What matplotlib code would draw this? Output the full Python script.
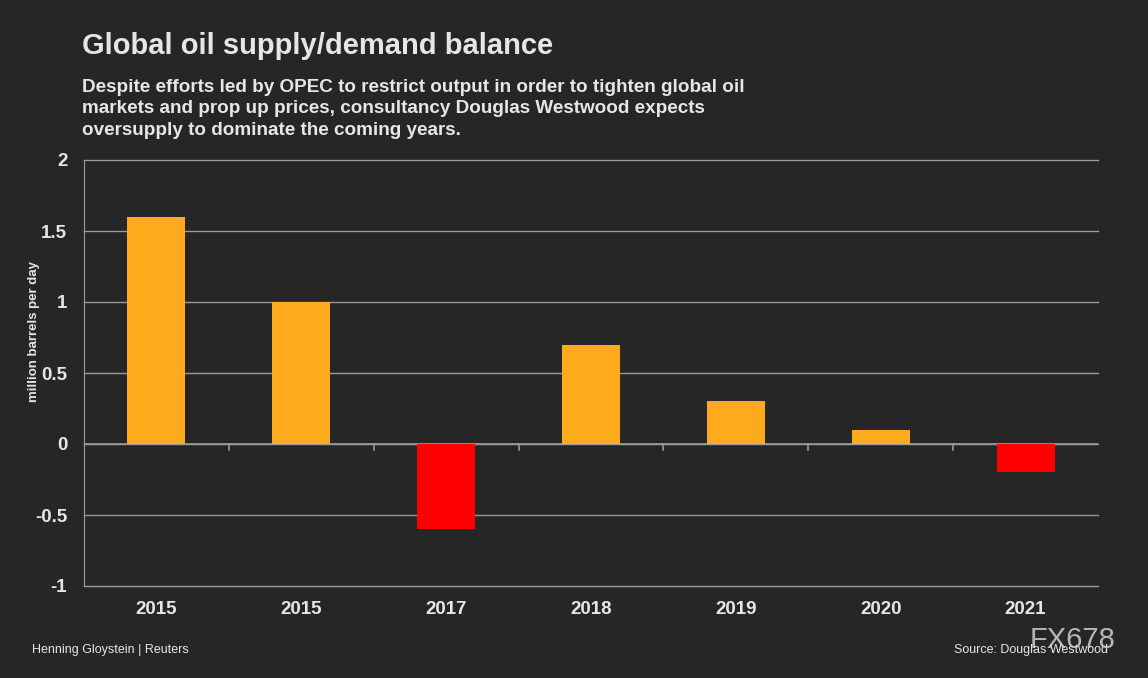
import matplotlib.pyplot as plt
import numpy as np

years = ['2015', '2015', '2017', '2018', '2019', '2020', '2021']
balance = [1.6, 1.0, -0.6, 0.7, 0.3, 0.1, -0.2]

bg = '#262626'
txt = '#E6E6E6'
grid = '#9a9a9a'
plt.rcParams['font.family'] = ['Liberation Sans', 'DejaVu Sans']

fig = plt.figure(figsize=(11.48, 6.78), dpi=100, facecolor=bg)
ax = fig.add_axes([84/1148, 1-586/678, 1014/1148, 426/678], facecolor=bg)

x = np.arange(len(years))
colors = ['#FDAA1C' if v >= 0 else '#FF0000' for v in balance]
ax.bar(x, balance, width=0.4, color=colors, zorder=3)

ax.set_xlim(-0.5, len(years) - 0.5)
ax.set_ylim(-1, 2)
ax.set_yticks(np.arange(-1, 2.01, 0.5))
ax.set_yticklabels(['-1', '-0.5', '0', '0.5', '1', '1.5', '2'])
for yv in np.arange(-1, 2.01, 0.5):
    ax.axhline(yv, color=grid, lw=1, zorder=0, clip_on=False)
ax.axhline(0, color=grid, lw=1.2, zorder=2)

# tick marks at category boundaries on zero line
for b in np.arange(0.5, len(years) - 0.5):
    ax.plot([b, b], [0, -0.045], color=grid, lw=1.2, zorder=2)

ax.set_xticks(x)
ax.set_xticklabels(years)
ax.tick_params(axis='both', length=0, colors=txt, labelsize=13.5, pad=12)
ax.tick_params(axis='x', pad=11)
for lab in ax.get_xticklabels() + ax.get_yticklabels():
    lab.set_fontweight('bold')

for s in ['top', 'right', 'bottom']:
    ax.spines[s].set_visible(False)
ax.spines['left'].set_color(grid)

fig.text(82/1148, 1-46/678, 'Global oil supply/demand balance', color=txt,
         fontsize=21, fontweight='bold', va='center')
fig.text(82/1148, 1-79/678,
         'Despite efforts led by OPEC to restrict output in order to tighten global oil\n'
         'markets and prop up prices, consultancy Douglas Westwood expects\n'
         'oversupply to dominate the coming years.',
         color=txt, fontsize=13.6, fontweight='bold', va='top', linespacing=1.34)
fig.text(34/1148, 1-332/678, 'million barrels per day', color=txt, fontsize=9.5,
         fontweight='bold', rotation=90, ha='center', va='center')
fig.text(32/1148, 1-650/678, 'Henning Gloystein | Reuters', color=txt,
         fontsize=9, va='center')
fig.text(1108/1148, 1-650/678, 'Source: Douglas Westwood', color=txt,
         fontsize=9, va='center', ha='right')
fig.text(1116/1148, 1-640/678, 'FX678', color='#d0d0d0', fontsize=21,
         va='center', ha='right', alpha=0.85)

fig.savefig('out.png', dpi=100, facecolor=bg)
